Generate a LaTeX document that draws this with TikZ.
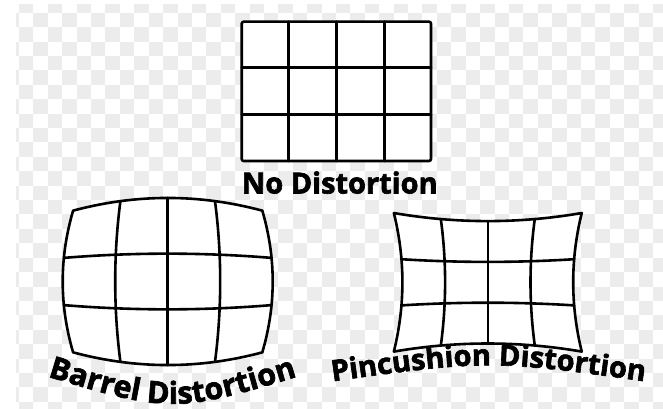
\documentclass[tikz,border=0pt]{standalone}
\usepackage{fontspec}
\newfontfamily\lblfont{Open Sans}[BoldFeatures={FakeBold=2.2}]
\usetikzlibrary{decorations.text}
\definecolor{chk}{gray}{0.925}
\begin{document}
\begin{tikzpicture}[x=1pt,y=-1pt,
  gridline/.style={line width=2.6pt, line join=round, line cap=round},
  lbl/.style={font=\lblfont\bfseries\fontsize{29}{30}\selectfont, inner sep=0pt},
  declare function={
    bX(\x,\y)=167.7+52.5*\x*(1-0.044*\y*\y);
    bY(\x,\y)=281.5+55.7*\y*(1-0.038*\x*\x);
    pX(\x,\y)=487.8+42.7*\x*(1+0.0445*\y*\y);
    pY(\x,\y)=282.3+40.8*\y*(1+0.033*\x*\x);
  }]
\useasboundingbox (0,0) rectangle (663,409);
\fill[white] (0,0) rectangle (663,409);
% checkerboard background
\begin{scope}
\clip (16,5) rectangle (663,409);
\foreach \i in {-1,...,45} {
  \foreach \j in {0,...,28} {
    \pgfmathtruncatemacro\cpar{mod(\i+\j+100,2)}
    \ifnum\cpar=0
      \fill[chk] ({19+14.41*\i},{-1.7+14.41*\j}) rectangle ++(14.41,14.41);
    \fi
  }
}
\end{scope}
% no distortion
\draw[gridline, fill=white, rounded corners=2pt] (241.7,21.7) rectangle (431,161);
\foreach \xx in {288.7,336.7,384.3} \draw[gridline] (\xx,21.7) -- (\xx,161);
\foreach \yy in {67.3,114.3} \draw[gridline] (241.7,\yy) -- (431,\yy);
\node[lbl, anchor=base] (nolbl) at (339.7,193.5) {No Distortion};
% barrel
\draw[gridline, fill=white]
  plot[domain=-2:2, samples=30, variable=\t] ({bX(\t,-1.5)},{bY(\t,-1.5)})
  -- plot[domain=-1.5:1.5, samples=30, variable=\t] ({bX(2,\t)},{bY(2,\t)})
  -- plot[domain=2:-2, samples=30, variable=\t] ({bX(\t,1.5)},{bY(\t,1.5)})
  -- plot[domain=1.5:-1.5, samples=30, variable=\t] ({bX(-2,\t)},{bY(-2,\t)}) -- cycle;
\foreach \k in {-1,0,1}
  \draw[gridline] plot[domain=-1.5:1.5, samples=30, variable=\t] ({bX(\k,\t)},{bY(\k,\t)});
\foreach \k in {-0.5,0.5}
  \draw[gridline] plot[domain=-2:2, samples=30, variable=\t] ({bX(\t,\k)},{bY(\t,\k)});
% pincushion
\draw[gridline, fill=white]
  plot[domain=-2:2, samples=30, variable=\t] ({pX(\t,-1.5)},{pY(\t,-1.5)})
  -- plot[domain=-1.5:1.5, samples=30, variable=\t] ({pX(2,\t)},{pY(2,\t)})
  -- plot[domain=2:-2, samples=30, variable=\t] ({pX(\t,1.5)},{pY(\t,1.5)})
  -- plot[domain=1.5:-1.5, samples=30, variable=\t] ({pX(-2,\t)},{pY(-2,\t)}) -- cycle;
\foreach \k in {-1,0,1}
  \draw[gridline] plot[domain=-1.5:1.5, samples=30, variable=\t] ({pX(\k,\t)},{pY(\k,\t)});
\foreach \k in {-0.5,0.5}
  \draw[gridline] plot[domain=-2:2, samples=30, variable=\t] ({pX(\t,\k)},{pY(\t,\k)});
% curved labels
\path[decorate, decoration={text along path, text align=center,
  text={|\lblfont\bfseries\fontsize{30.5}{31}\selectfont|Barrel Distortion}}]
  (30,371.2) .. controls (172.5,414.8) .. (315,371.2);
\path[decorate, decoration={text along path, text align=center,
  text={|\lblfont\bfseries\fontsize{29}{30}\selectfont|Pincushion Distortion}}]
  (315,383.8) .. controls (488.5,359.2) .. (662,383.8);
\end{tikzpicture}
\end{document}
